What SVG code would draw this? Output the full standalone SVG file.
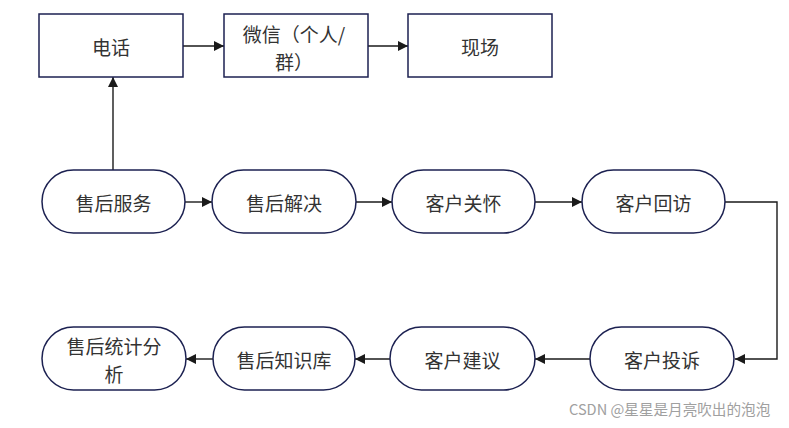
<svg xmlns="http://www.w3.org/2000/svg" width="789" height="428" viewBox="0 0 789 428">
<style>
.box{fill:#fff;stroke:#1c2151;stroke-width:1.5}
.t{font-family:"Noto Sans CJK SC","Noto Sans",sans-serif;font-size:19px;fill:#333;text-anchor:middle;dominant-baseline:central}
.c{fill:none;stroke:#1a1a1a;stroke-width:1.4}
.wm{font-family:"Noto Sans CJK SC","Liberation Sans",sans-serif;font-size:14.6px;fill:#a0a0a0}
</style>
<defs>
<marker id="ah" viewBox="0 0 10 10" refX="10" refY="5" markerWidth="10" markerHeight="10" markerUnits="userSpaceOnUse" orient="auto">
<path d="M0,0 L10,5 L0,10 Z" fill="#1a1a1a"/>
</marker>
</defs>
<rect width="789" height="428" fill="#fff"/>
<g id="connectors">
<line class="c" x1="183" y1="46" x2="224" y2="46" marker-end="url(#ah)"/>
<line class="c" x1="368" y1="46" x2="408" y2="46" marker-end="url(#ah)"/>
<line class="c" x1="113" y1="170" x2="113" y2="77" marker-end="url(#ah)"/>
<line class="c" x1="185" y1="202" x2="212" y2="202" marker-end="url(#ah)"/>
<line class="c" x1="356" y1="202" x2="392" y2="202" marker-end="url(#ah)"/>
<line class="c" x1="535" y1="202" x2="582" y2="202" marker-end="url(#ah)"/>
<path class="c" d="M725,202 H777 V359 H735" marker-end="url(#ah)"/>
<line class="c" x1="590" y1="359" x2="535" y2="359" marker-end="url(#ah)"/>
<line class="c" x1="390" y1="359" x2="355" y2="359" marker-end="url(#ah)"/>
<line class="c" x1="213" y1="359" x2="186" y2="359" marker-end="url(#ah)"/>
</g>
<g id="n-dianhua"><rect class="box" x="39" y="14" width="144" height="63"/><text class="t" x="111" y="46">电话</text></g>
<g id="n-weixin"><rect class="box" x="224" y="14" width="144" height="63"/><text class="t" x="294" y="33">微信（个人/</text><text class="t" x="294" y="61">群）</text></g>
<g id="n-xianchang"><rect class="box" x="408" y="14" width="144" height="63"/><text class="t" x="480" y="46">现场</text></g>
<g id="n-shfw"><rect class="box" x="42" y="170" width="143" height="63" rx="31.5"/><text class="t" x="113.5" y="202">售后服务</text></g>
<g id="n-shjj"><rect class="box" x="212" y="170" width="144" height="63" rx="31.5"/><text class="t" x="284" y="202">售后解决</text></g>
<g id="n-khgh"><rect class="box" x="392" y="170" width="143" height="63" rx="31.5"/><text class="t" x="463.5" y="202">客户关怀</text></g>
<g id="n-khhf"><rect class="box" x="582" y="170" width="143" height="63" rx="31.5"/><text class="t" x="653.5" y="202">客户回访</text></g>
<g id="n-khts"><rect class="box" x="590" y="327" width="144" height="63" rx="31.5"/><text class="t" x="662" y="359">客户投诉</text></g>
<g id="n-khjy"><rect class="box" x="390" y="327" width="145" height="63" rx="31.5"/><text class="t" x="462.5" y="359">客户建议</text></g>
<g id="n-shzsk"><rect class="box" x="213" y="327" width="142" height="63" rx="31.5"/><text class="t" x="284" y="359">售后知识库</text></g>
<g id="n-shtjfx"><rect class="box" x="42" y="327" width="144" height="63" rx="31.5"/><text class="t" x="114" y="345">售后统计分</text><text class="t" x="114" y="373">析</text></g>
<text class="wm" x="569" y="415">CSDN @星星是月亮吹出的泡泡</text>
</svg>
